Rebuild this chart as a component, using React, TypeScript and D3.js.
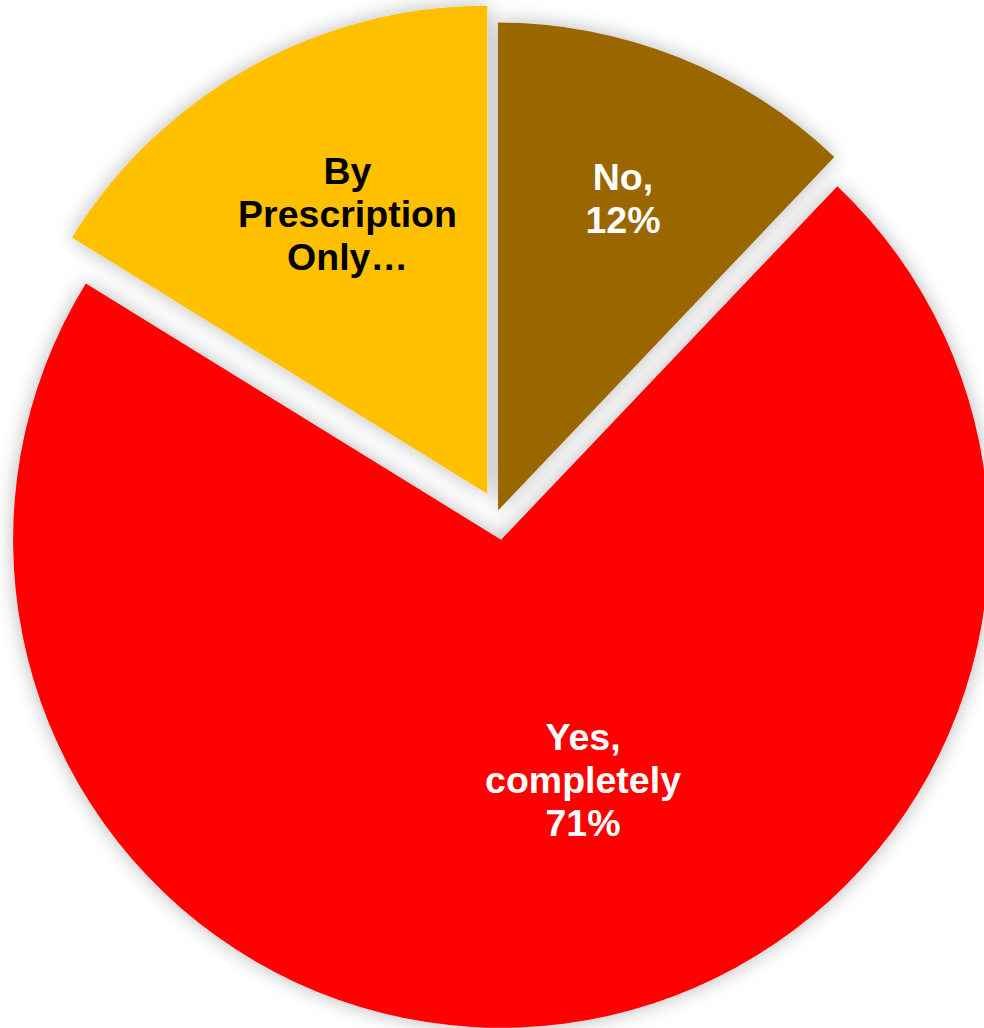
import React from "react";
import * as d3 from "d3";

const categories = ["No", "Yes, completely", "By Prescription Only…"];
const values = [12.1, 71.7, 16.2];
const labelLines = [["No,", "12%"], ["Yes,", "completely", "71%"], ["By", "Prescription", "Only…"]];
const colors = ["#996600", "#FF0000", "#FFC000"];
const labelColors = ["#FFFFFF", "#FFFFFF", "#000000"];

const W = 984;
const H = 1028;
const CX = 497.5;
const CY = 512;
const R = 488;
const explode = [1.5, 28, 21];
// label placement: fraction of radius from slice vertex, and angle tweak (radians)
const labelFrac = [0.69, 0.52, 0.64];
const labelAngleShift = [0, -0.2, 0.045];
const FONT = 37.5;
const LINE_H = 43;

export default function App() {
  const pie = d3
    .pie<number>()
    .sort(null)
    .startAngle(0)
    .endAngle(2 * Math.PI)
    .value((d) => d);
  const arcs = pie(values);
  const arc = d3.arc<d3.PieArcDatum<number>>().innerRadius(0).outerRadius(R);

  return (
    <div style={{ position: "absolute", left: 0, top: 0 }}>
      <svg width={W} height={H} style={{ display: "block", background: "#fff" }}>
        <defs>
          <filter id="sh" x="-20%" y="-20%" width="140%" height="140%">
            <feGaussianBlur in="SourceAlpha" stdDeviation="10" result="b" />
            <feFlood floodColor="#000" floodOpacity="0.28" />
            <feComposite in2="b" operator="in" result="s" />
            <feMerge>
              <feMergeNode in="s" />
              <feMergeNode in="SourceGraphic" />
            </feMerge>
          </filter>
        </defs>
        <g filter="url(#sh)">
          {arcs.map((a, i) => {
            const mid = (a.startAngle + a.endAngle) / 2;
            const ox = CX + explode[i] * Math.sin(mid);
            const oy = CY - explode[i] * Math.cos(mid);
            return (
              <path
                key={categories[i]}
                d={arc(a) || ""}
                transform={`translate(${ox},${oy})`}
                fill={colors[i]}
              />
            );
          })}
        </g>
        {arcs.map((a, i) => {
          const mid = (a.startAngle + a.endAngle) / 2;
          const ox = CX + explode[i] * Math.sin(mid);
          const oy = CY - explode[i] * Math.cos(mid);
          const ang = mid + labelAngleShift[i];
          const lx = ox + labelFrac[i] * R * Math.sin(ang);
          const ly = oy - labelFrac[i] * R * Math.cos(ang);
          const lines = labelLines[i];
          const y0 = ly - ((lines.length - 1) * LINE_H) / 2;
          return (
            <text
              key={"l" + i}
              x={lx}
              textAnchor="middle"
              fill={labelColors[i]}
              style={{ fontFamily: "'Liberation Sans', Arial, sans-serif", fontWeight: 700, fontSize: FONT }}
            >
              {lines.map((t, j) => (
                <tspan key={j} x={lx} y={y0 + j * LINE_H} dy="0.35em">
                  {t}
                </tspan>
              ))}
            </text>
          );
        })}
      </svg>
    </div>
  );
}
